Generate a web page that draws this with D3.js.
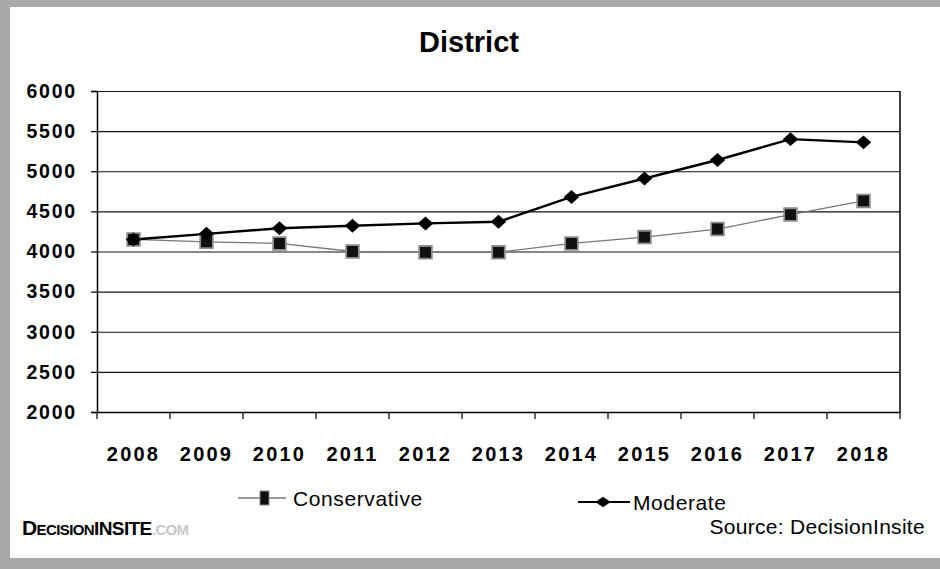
<!DOCTYPE html>
<html>
<head>
<meta charset="utf-8">
<script src="https://cdn.jsdelivr.net/npm/d3@7/dist/d3.min.js"></script>
<style>
  body { margin: 0; background: #fff; }
  svg { display: block; font-family: "Liberation Sans", Arial, sans-serif; }
</style>
</head>
<body>
<svg id="chart" width="940" height="569"></svg>
<script>
// data
let years = ['2008', '2009', '2010', '2011', '2012', '2013', '2014', '2015', '2016', '2017', '2018'];
let conservative = [4150, 4120, 4100, 4000, 3990, 3990, 4100, 4180, 4280, 4460, 4630];
let moderate = [4150, 4220, 4290, 4320, 4350, 4370, 4680, 4910, 5140, 5400, 5360];
let yTicks = [2000, 2500, 3000, 3500, 4000, 4500, 5000, 5500, 6000];

let svg = d3.select('#chart');

// scanned grey frame
svg.append('rect').attr('width', 940).attr('height', 569).attr('fill', '#a9a9a9');
svg.append('rect')
  .attr('x', 10).attr('y', 7)
  .attr('width', 930).attr('height', 551)
  .attr('fill', '#fff');

let margin = {top: 91, right: 40, bottom: 157, left: 97};
let width = 940 - margin.left - margin.right;
let height = 569 - margin.top - margin.bottom;

let x = d3.scaleBand().domain(years).range([0, width]);
let y = d3.scaleLinear().domain([2000, 6000]).range([height, 0]);
let cx = d => x(d) + x.bandwidth() / 2;

let g = svg.append('g')
  .attr('transform', 'translate(' + margin.left + ',' + margin.top + ')');

// title
svg.append('text')
  .attr('x', 469).attr('y', 52)
  .attr('text-anchor', 'middle')
  .style('font-size', '29px')
  .style('font-weight', 'bold')
  .text('District');

// grid lines
g.append('g')
  .call(d3.axisLeft(y).tickValues(yTicks).tickSize(-width).tickFormat(''))
  .call(a => a.select('.domain').remove())
  .selectAll('line').attr('stroke', '#111').attr('stroke-width', 1.2);

// y axis
let yAxis = g.append('g')
  .call(d3.axisLeft(y).tickValues(yTicks).tickSize(6).tickPadding(14).tickFormat(d3.format('d')));
yAxis.select('.domain').attr('stroke', '#000').attr('stroke-width', 1.5);
yAxis.selectAll('line').attr('stroke', '#000').attr('stroke-width', 1.2);
yAxis.selectAll('text')
  .style('font-size', '19.5px')
  .style('font-weight', 'bold')
  .style('letter-spacing', '1.8px')
  .attr('fill', '#000');

// right border of plot
g.append('line')
  .attr('x1', width).attr('x2', width)
  .attr('y1', 0).attr('y2', height)
  .attr('stroke', '#000').attr('stroke-width', 1.5);

// x axis (labels centred, ticks on band edges)
let xAxis = g.append('g')
  .attr('transform', 'translate(0,' + height + ')')
  .call(d3.axisBottom(x).tickSize(0));
xAxis.select('.domain').attr('stroke', '#000').attr('stroke-width', 1.5);
xAxis.selectAll('text')
  .attr('y', 35)
  .style('font-size', '20px')
  .style('font-weight', 'bold')
  .style('letter-spacing', '2.2px')
  .attr('fill', '#000');

let edges = years.map(d => x(d)).concat([width]);
xAxis.selectAll('.edge')
  .data(edges)
  .enter().append('line')
  .attr('class', 'edge')
  .attr('x1', d => d).attr('x2', d => d)
  .attr('y1', 0).attr('y2', 7)
  .attr('stroke', '#000').attr('stroke-width', 1.2);

// lines
let line = d3.line()
  .x((d, i) => cx(years[i]))
  .y(d => y(d));

g.append('path')
  .datum(conservative)
  .attr('d', line)
  .attr('fill', 'none')
  .attr('stroke', '#777')
  .attr('stroke-width', 1.3);

g.append('path')
  .datum(moderate)
  .attr('d', line)
  .attr('fill', 'none')
  .attr('stroke', '#000')
  .attr('stroke-width', 2.4);

let square = d3.symbol().type(d3.symbolSquare).size(160);
// wide diamond: a square turned by 45 degrees, squashed a little in height
let diamond = d3.symbol().type(d3.symbolSquare).size(120);

g.selectAll('.cons')
  .data(conservative)
  .enter().append('path')
  .attr('class', 'cons')
  .attr('transform', (d, i) => 'translate(' + cx(years[i]) + ',' + y(d) + ')')
  .attr('d', square)
  .attr('fill', '#111')
  .attr('stroke', '#8a8a8a')
  .attr('stroke-width', 1.8);

g.selectAll('.mod')
  .data(moderate)
  .enter().append('path')
  .attr('class', 'mod')
  .attr('transform', (d, i) => 'translate(' + cx(years[i]) + ',' + y(d) + ') scale(1,0.9) rotate(45)')
  .attr('d', diamond)
  .attr('fill', '#000');

// legend
let legendC = svg.append('g').attr('transform', 'translate(238,498)');
legendC.append('line')
  .attr('x1', 0).attr('x2', 48)
  .attr('stroke', '#777').attr('stroke-width', 1.3);
legendC.append('rect')
  .attr('x', 22).attr('y', -7).attr('width', 9).attr('height', 14)
  .attr('fill', '#111').attr('stroke', '#888').attr('stroke-width', 1);
legendC.append('text')
  .attr('x', 55).attr('dy', '0.36em')
  .style('font-size', '21px')
  .style('letter-spacing', '0.6px')
  .text('Conservative');

let legendM = svg.append('g').attr('transform', 'translate(578,502)');
legendM.append('line')
  .attr('x1', 0).attr('x2', 52)
  .attr('stroke', '#000').attr('stroke-width', 2.2);
legendM.append('path')
  .attr('transform', 'translate(25,0) scale(1.3,0.9) rotate(45)')
  .attr('d', d3.symbol().type(d3.symbolSquare).size(70))
  .attr('fill', '#000');
legendM.append('text')
  .attr('x', 55).attr('dy', '0.36em')
  .style('font-size', '21px')
  .style('letter-spacing', '0.6px')
  .text('Moderate');

// source note
svg.append('text')
  .attr('x', 925).attr('y', 534)
  .attr('text-anchor', 'end')
  .style('font-size', '21px')
  .style('letter-spacing', '0.3px')
  .text('Source: DecisionInsite');

// logo
let logo = svg.append('text')
  .attr('x', 22).attr('y', 535)
  .style('font-weight', 'bold')
  .style('letter-spacing', '-0.6px')
  .attr('fill', '#000');
logo.append('tspan').style('font-size', '21px').text('D');
logo.append('tspan').style('font-size', '15px').text('ECISION');
logo.append('tspan').style('font-size', '19px').style('font-weight', '900').text('INSITE');
logo.append('tspan').style('font-size', '15px').attr('fill', '#c8c8c8').text('.COM');
</script>
</body>
</html>
